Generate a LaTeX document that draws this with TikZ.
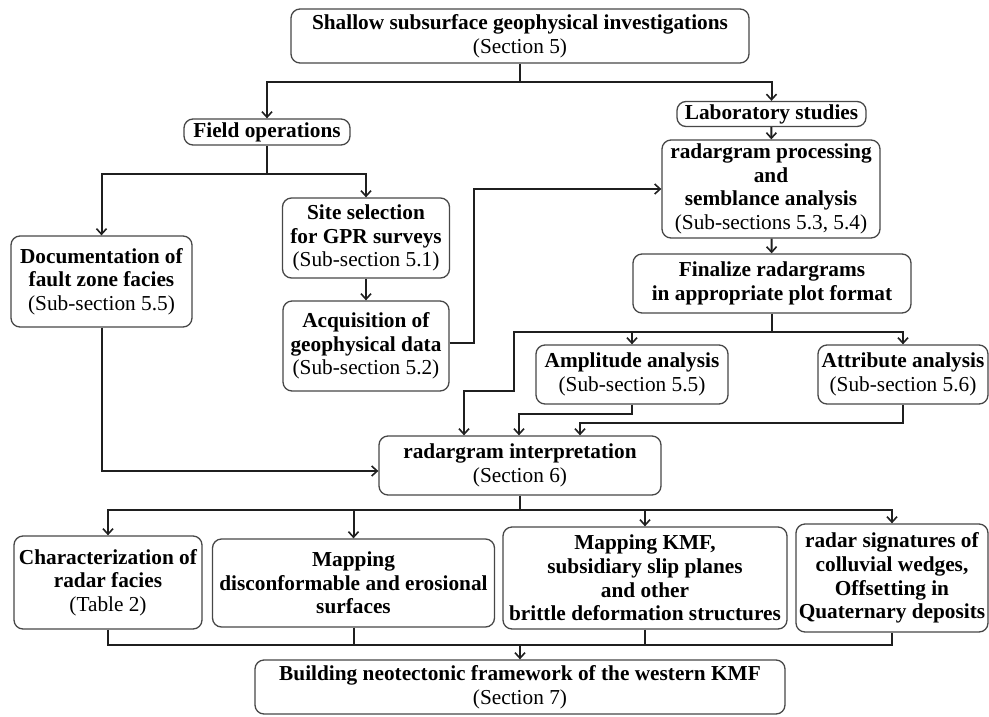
\documentclass[tikz,border=0pt]{standalone}
\usepackage{fontspec}
\setmainfont{Liberation Serif}
\usetikzlibrary{arrows.meta,calc}
\begin{document}
\begin{tikzpicture}[x=1pt,y=-1pt,
  box/.style={draw=black!72, line width=1.3pt, rounded corners=9pt, align=center,
    inner sep=0pt, font=\fontsize{21.3}{23.7}\selectfont, text=black},
  ln/.style={draw=black!88, line width=2pt},
  arr/.style={ln, -{Straight Barb[length=5.5pt,width=10pt,line width=1.6pt]}}]
\useasboundingbox (0,0) rectangle (989,716);

\node[box, minimum width=458pt, minimum height=54pt] (top) at (520,36)
  {\textbf{Shallow subsurface geophysical investigations}\\(Section 5)};
\node[box, minimum width=166pt, minimum height=26pt] (field) at (267,132)
  {\textbf{Field operations}};
\node[box, minimum width=189pt, minimum height=25pt] (lab) at (771.5,114)
  {\textbf{Laboratory studies}};
\node[box, minimum width=218pt, minimum height=98pt] (proc) at (771,189)
  {\textbf{radargram processing}\\\textbf{and}\\\textbf{semblance analysis}\\(Sub-sections 5.3, 5.4)};
\node[box, minimum width=278pt, minimum height=59pt] (final) at (772,283.5)
  {\textbf{Finalize radargrams}\\\textbf{in appropriate plot format}};
\node[box, minimum width=181pt, minimum height=91pt] (doc) at (101.5,281.5)
  {\textbf{Documentation of}\\\textbf{fault zone facies}\\(Sub-section 5.5)};
\node[box, minimum width=167pt, minimum height=80pt] (site) at (366,238)
  {\textbf{Site selection}\\\textbf{for GPR surveys}\\(Sub-section 5.1)};
\node[box, minimum width=166pt, minimum height=90pt] (acq) at (366,346)
  {\textbf{Acquisition of}\\\textbf{geophysical data}\\(Sub-section 5.2)};
\node[box, minimum width=192pt, minimum height=59pt] (amp) at (632,374.5)
  {\textbf{Amplitude analysis}\\(Sub-section 5.5)};
\node[box, minimum width=170pt, minimum height=59pt] (attr) at (903,374.5)
  {\textbf{Attribute analysis}\\(Sub-section 5.6)};
\node[box, minimum width=282pt, minimum height=59pt] (interp) at (520,465.5)
  {\textbf{radargram interpretation}\\(Section 6)};
\node[box, minimum width=188pt, minimum height=93pt] (char) at (108,582.5)
  {\textbf{Characterization of}\\\textbf{radar facies}\\(Table 2)};
\node[box, minimum width=282pt, minimum height=88pt] (mapa) at (353.5,583)
  {\textbf{Mapping}\\\textbf{disconformable and erosional}\\\textbf{surfaces}};
\node[box, minimum width=284pt, minimum height=102pt] (mapb) at (645,578)
  {\textbf{Mapping KMF,}\\\textbf{subsidiary slip planes}\\\textbf{and other}\\\textbf{brittle deformation structures}};
\node[box, minimum width=192pt, minimum height=108pt] (radar) at (892,578)
  {\textbf{radar signatures of}\\\textbf{colluvial wedges,}\\\textbf{Offsetting in}\\\textbf{Quaternary deposits}};
\node[box, minimum width=530pt, minimum height=54pt] (build) at (520,687)
  {\textbf{Building neotectonic framework of the western KMF}\\(Section 7)};

% top split
\draw[ln] (top.south) -- ++(0,18) coordinate (t1);
\draw[arr] (t1) -| (field.north);
\draw[arr] (t1) -| (lab.north);
% field operations split
\draw[ln] (field.south) -- ++(0,28) coordinate (f1);
\draw[arr] (f1) -| (doc.north);
\draw[arr] (f1) -| (site.north);
\draw[arr] (site) -- (acq);
\draw[arr] ([yshift=3pt]acq.east) -- ++(24,0) |- (proc.west);
% laboratory chain
\draw[arr] (lab) -- (proc);
\draw[arr] (proc) -- (final);
\draw[ln] (final.south) -- ++(0,18) coordinate (g1);
\draw[arr] (g1) -| (amp.north);
\draw[arr] (g1) -| (attr.north);
\draw[arr] (g1) -| ++(-258,59) -| ([xshift=-56pt]interp.north);
\draw[arr] (amp.south) -- ++(0,9) -| ([xshift=-1pt]interp.north);
\draw[arr] (attr.south) -- ++(0,18) -| ([xshift=60pt]interp.north);
\draw[arr] (doc.south) |- ([yshift=-5.5pt]interp.west);
% interpretation split
\draw[ln] (interp.south) -- ++(0,14) coordinate (i1);
\draw[arr] (i1) -| (char.north);
\draw[arr] (i1) -| (mapa.north);
\draw[arr] (i1) -| (mapb.north);
\draw[arr] (i1) -| (radar.north);
% merge
\draw[ln] (char.south) -- ++(0,15) coordinate (b1) -- (b1 -| radar.south) -- (radar.south);
\draw[ln] (mapa.south) -- (mapa.south |- b1);
\draw[ln] (mapb.south) -- (mapb.south |- b1);
\draw[arr] (b1 -| build.north) -- (build.north);
\end{tikzpicture}
\end{document}
